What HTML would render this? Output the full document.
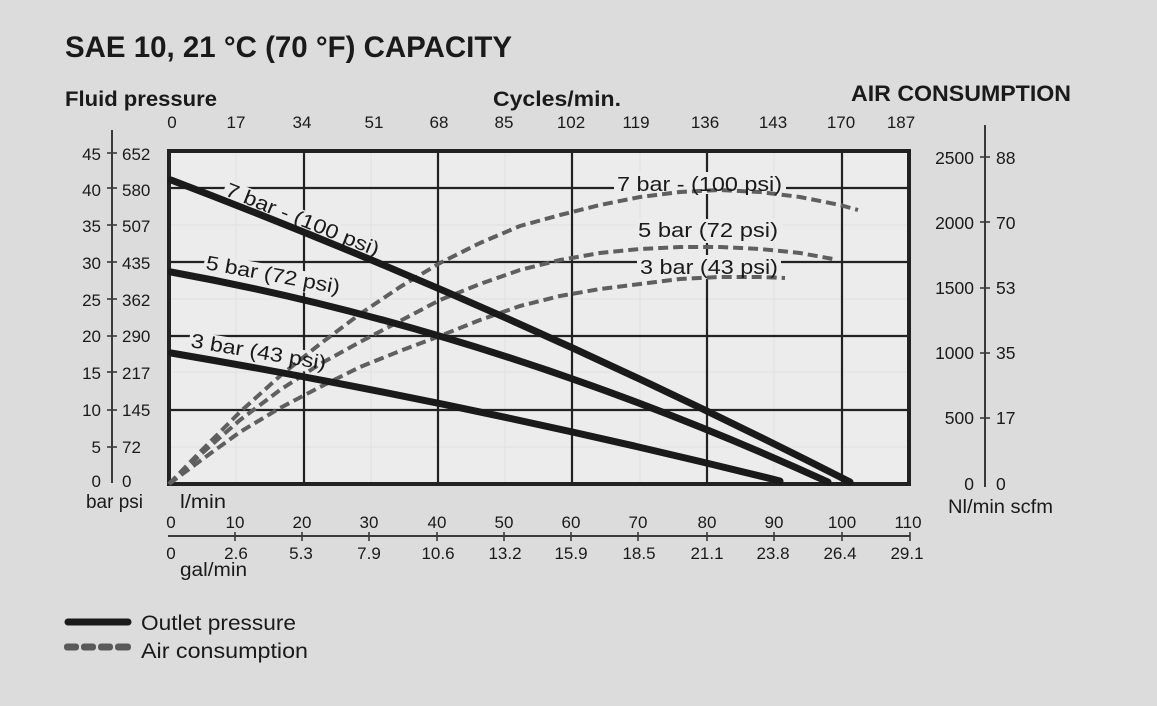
<!DOCTYPE html>
<html><head><meta charset="utf-8"><style>
html,body{margin:0;padding:0;background:#dcdcdc;}
svg{display:block;}
text{font-family:"Liberation Sans",sans-serif;fill:#1a1a1a;}
</style></head><body>
<svg width="1157" height="706" viewBox="0 0 1157 706" xmlns="http://www.w3.org/2000/svg">
<rect x="0" y="0" width="1157" height="706" fill="#dcdcdc"/>
<!-- Titles -->
<text x="65" y="57" font-size="30" font-weight="bold" textLength="447" lengthAdjust="spacingAndGlyphs">SAE 10, 21 °C (70 °F) CAPACITY</text>
<text x="65" y="106" font-size="21" font-weight="bold" textLength="152" lengthAdjust="spacingAndGlyphs">Fluid pressure</text>
<text x="493" y="106" font-size="21" font-weight="bold" textLength="128" lengthAdjust="spacingAndGlyphs">Cycles/min.</text>
<text x="851" y="101" font-size="22" font-weight="bold" textLength="220" lengthAdjust="spacingAndGlyphs">AIR CONSUMPTION</text>

<!-- plot area -->
<rect x="169" y="151" width="740" height="333" fill="#ececec"/>
<g stroke="#e2e2e2" stroke-width="1.2">
<line x1="169" y1="225" x2="909" y2="225"/><line x1="169" y1="299" x2="909" y2="299"/>
<line x1="169" y1="372" x2="909" y2="372"/><line x1="169" y1="447" x2="909" y2="447"/>
<line x1="236" y1="151" x2="236" y2="484"/><line x1="371" y1="151" x2="371" y2="484"/>
<line x1="505" y1="151" x2="505" y2="484"/><line x1="640" y1="151" x2="640" y2="484"/>
<line x1="774" y1="151" x2="774" y2="484"/>
</g>
<g stroke="#222" stroke-width="2.2">
<line x1="169" y1="188" x2="909" y2="188"/>
<line x1="169" y1="262" x2="909" y2="262"/>
<line x1="169" y1="336" x2="909" y2="336"/>
<line x1="169" y1="410" x2="909" y2="410"/>
<line x1="304" y1="151" x2="304" y2="484"/>
<line x1="438" y1="151" x2="438" y2="484"/>
<line x1="572" y1="151" x2="572" y2="484"/>
<line x1="707" y1="151" x2="707" y2="484"/>
<line x1="842" y1="151" x2="842" y2="484"/>
</g>
<rect x="169" y="151" width="740" height="333" fill="none" stroke="#222" stroke-width="4"/>

<!-- label background masks -->
<rect x="614" y="172" width="172" height="22" fill="#ececec"/>
<rect x="636" y="219" width="146" height="24" fill="#ececec"/>
<rect x="637" y="255" width="144" height="24" fill="#ececec"/>
<g transform="translate(224,195) rotate(22)"><rect x="-2" y="-16" width="168" height="21" fill="#ececec"/></g>
<g transform="translate(205,269) rotate(10.5)"><rect x="-2" y="-16" width="140" height="21" fill="#ececec"/></g>
<g transform="translate(190,347) rotate(9.6)"><rect x="-2" y="-16" width="141" height="21" fill="#ececec"/></g>

<!-- air consumption curves -->
<g fill="none" stroke="#5f5f5f" stroke-width="4" stroke-dasharray="10 5" stroke-linejoin="round">
<polyline points="169,484 200,452 240,412 280,376 320,344 360,314 400,287 440,263 480,243 520,226 560,215 600,205 640,197 680,192 720,190 760,192 800,197 840,205 858,210"/>
<polyline points="169,484 200,455 240,420 280,390 320,364 360,342 400,321 440,300 480,284 520,270 560,260 600,253 640,249 680,247 720,247 760,249 800,253 833,259"/>
<polyline points="169,484 200,461 240,432 280,408 320,387 360,367 400,351 440,336 480,320 520,306 560,296 600,289 640,284 680,279 720,277 760,277 785,278"/>
</g>

<!-- outlet pressure curves -->
<g fill="none" stroke="#1a1a1a" stroke-width="7" stroke-linecap="round">
<path d="M171,180 Q510.5,309 850,482"/>
<path d="M171,272 Q499.5,332 828,482"/>
<path d="M171,353 Q475.5,405 780,481"/>
</g>

<!-- curve labels -->
<text transform="translate(224,195) rotate(22)" font-size="20" textLength="164" lengthAdjust="spacingAndGlyphs">7 bar - (100 psi)</text>
<text transform="translate(205,269) rotate(10.5)" font-size="20" textLength="136" lengthAdjust="spacingAndGlyphs">5 bar (72 psi)</text>
<text transform="translate(190,347) rotate(9.6)" font-size="20" textLength="137" lengthAdjust="spacingAndGlyphs">3 bar (43 psi)</text>
<g style="fill:#555">
<text x="617" y="191" font-size="20" textLength="165" lengthAdjust="spacingAndGlyphs" fill="#555">7 bar - (100 psi)</text>
<text x="638" y="237" font-size="20" textLength="140" lengthAdjust="spacingAndGlyphs" fill="#555">5 bar (72 psi)</text>
<text x="640" y="274" font-size="20" textLength="138" lengthAdjust="spacingAndGlyphs" fill="#555">3 bar (43 psi)</text>
</g>

<!-- left axis -->
<line x1="112" y1="130" x2="112" y2="483" stroke="#3a3a3a" stroke-width="2"/>
<g stroke="#3a3a3a" stroke-width="1.6">
<line x1="107" y1="153" x2="117" y2="153"/><line x1="107" y1="188" x2="117" y2="188"/>
<line x1="107" y1="225" x2="117" y2="225"/><line x1="107" y1="262" x2="117" y2="262"/>
<line x1="107" y1="299" x2="117" y2="299"/><line x1="107" y1="336" x2="117" y2="336"/>
<line x1="107" y1="372" x2="117" y2="372"/><line x1="107" y1="410" x2="117" y2="410"/>
<line x1="107" y1="447" x2="117" y2="447"/>
</g>
<g font-size="17">
<g text-anchor="end">
<text x="101" y="160">45</text><text x="101" y="196">40</text><text x="101" y="232">35</text>
<text x="101" y="269">30</text><text x="101" y="306">25</text><text x="101" y="342">20</text>
<text x="101" y="379">15</text><text x="101" y="416">10</text><text x="101" y="453">5</text>
<text x="101" y="487">0</text>
</g>
<text x="122" y="160">652</text><text x="122" y="196">580</text><text x="122" y="232">507</text>
<text x="122" y="269">435</text><text x="122" y="306">362</text><text x="122" y="342">290</text>
<text x="122" y="379">217</text><text x="122" y="416">145</text><text x="122" y="453">72</text>
<text x="122" y="487">0</text>
</g>
<text x="86" y="508" font-size="19" textLength="57" lengthAdjust="spacingAndGlyphs">bar psi</text>

<!-- right axis -->
<line x1="985" y1="125" x2="985" y2="487" stroke="#3a3a3a" stroke-width="2"/>
<g stroke="#3a3a3a" stroke-width="1.6">
<line x1="980" y1="157" x2="990" y2="157"/><line x1="980" y1="222" x2="990" y2="222"/>
<line x1="980" y1="288" x2="990" y2="288"/><line x1="980" y1="353" x2="990" y2="353"/>
<line x1="980" y1="418" x2="990" y2="418"/>
</g>
<g font-size="17.5">
<g text-anchor="end">
<text x="974" y="164">2500</text><text x="974" y="229">2000</text><text x="974" y="294">1500</text>
<text x="974" y="359">1000</text><text x="974" y="424">500</text><text x="974" y="490">0</text>
</g>
<text x="996" y="164">88</text><text x="996" y="229">70</text><text x="996" y="294">53</text>
<text x="996" y="359">35</text><text x="996" y="424">17</text><text x="996" y="490">0</text>
</g>
<text x="948" y="513" font-size="19" textLength="105" lengthAdjust="spacingAndGlyphs">Nl/min scfm</text>

<!-- top axis labels -->
<g font-size="17" text-anchor="middle">
<text x="172" y="128">0</text><text x="236" y="128">17</text><text x="302" y="128">34</text>
<text x="374" y="128">51</text><text x="439" y="128">68</text><text x="504" y="128">85</text>
<text x="571" y="128">102</text><text x="636" y="128">119</text><text x="705" y="128">136</text>
<text x="773" y="128">143</text><text x="841" y="128">170</text><text x="901" y="128">187</text>
</g>

<!-- bottom axis -->
<text x="180" y="508" font-size="19" textLength="46" lengthAdjust="spacingAndGlyphs">l/min</text>
<g font-size="17" text-anchor="middle">
<text x="171" y="528">0</text><text x="235" y="528">10</text><text x="302" y="528">20</text>
<text x="369" y="528">30</text><text x="437" y="528">40</text><text x="504" y="528">50</text>
<text x="571" y="528">60</text><text x="638" y="528">70</text><text x="707" y="528">80</text>
<text x="774" y="528">90</text><text x="842" y="528">100</text><text x="908" y="528">110</text>
</g>
<line x1="168" y1="536" x2="910" y2="536" stroke="#3a3a3a" stroke-width="2"/>
<g stroke="#3a3a3a" stroke-width="1.6">
<line x1="235" y1="532" x2="235" y2="541"/><line x1="302" y1="532" x2="302" y2="541"/>
<line x1="369" y1="532" x2="369" y2="541"/><line x1="437" y1="532" x2="437" y2="541"/>
<line x1="504" y1="532" x2="504" y2="541"/><line x1="571" y1="532" x2="571" y2="541"/>
<line x1="638" y1="532" x2="638" y2="541"/><line x1="707" y1="532" x2="707" y2="541"/>
<line x1="774" y1="532" x2="774" y2="541"/><line x1="842" y1="532" x2="842" y2="541"/>
<line x1="910" y1="532" x2="910" y2="541"/>
</g>
<g font-size="17" text-anchor="middle">
<text x="171" y="559">0</text><text x="236" y="559">2.6</text><text x="301" y="559">5.3</text>
<text x="369" y="559">7.9</text><text x="438" y="559">10.6</text><text x="505" y="559">13.2</text>
<text x="571" y="559">15.9</text><text x="639" y="559">18.5</text><text x="707" y="559">21.1</text>
<text x="773" y="559">23.8</text><text x="840" y="559">26.4</text><text x="907" y="559">29.1</text>
</g>
<text x="180" y="576" font-size="19" textLength="67" lengthAdjust="spacingAndGlyphs">gal/min</text>

<!-- legend -->
<line x1="68" y1="622" x2="128" y2="622" stroke="#1a1a1a" stroke-width="7" stroke-linecap="round"/>
<g fill="#5a5a5a">
<rect x="64" y="643.5" width="15" height="7" rx="3"/>
<rect x="81" y="643.5" width="15" height="7" rx="3"/>
<rect x="98" y="643.5" width="15" height="7" rx="3"/>
<rect x="115" y="643.5" width="16" height="7" rx="3"/>
</g>
<text x="141" y="630" font-size="21" textLength="155" lengthAdjust="spacingAndGlyphs">Outlet pressure</text>
<text x="141" y="658" font-size="21" textLength="167" lengthAdjust="spacingAndGlyphs">Air consumption</text>
</svg>
</body></html>
